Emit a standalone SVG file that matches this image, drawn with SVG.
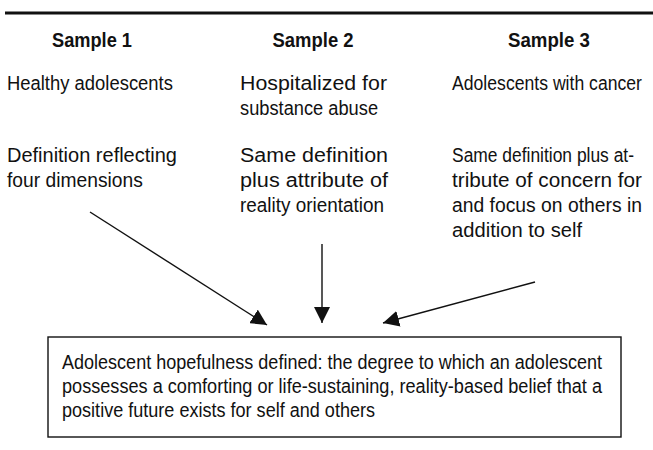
<svg xmlns="http://www.w3.org/2000/svg" width="653" height="450" viewBox="0 0 653 450">
<style>
text{font-family:"Liberation Sans",Arial,sans-serif;font-size:21px;fill:#111}
.h{font-weight:bold;text-anchor:middle;font-size:20.5px}
.c{stroke:#111;stroke-width:1.4;fill:none}
</style>
<defs>
<marker id="ah" viewBox="0 0 10 10" refX="10" refY="5" markerWidth="16" markerHeight="16" markerUnits="userSpaceOnUse" orient="auto"><path d="M0,0 L10,5 L0,10 z" fill="#111"/></marker>
</defs>
<rect width="653" height="450" fill="#fff"/>
<line x1="5" y1="13" x2="653" y2="13" stroke="#111" stroke-width="3"/>
<g id="sample1" transform="scale(0.86 1)">
<text class="h" x="107" y="47" textLength="93" lengthAdjust="spacingAndGlyphs">Sample 1</text>
<text x="8.1" y="90" textLength="193" lengthAdjust="spacingAndGlyphs">Healthy adolescents</text>
<text x="8.1" y="162" textLength="197.7" lengthAdjust="spacingAndGlyphs">Definition reflecting</text>
<text x="8.1" y="187" textLength="158.1" lengthAdjust="spacingAndGlyphs">four dimensions</text>
</g>
<g id="sample2" transform="scale(0.86 1)">
<text class="h" x="364" y="47" textLength="94.2" lengthAdjust="spacingAndGlyphs">Sample 2</text>
<text x="279.1" y="90" textLength="170.9" lengthAdjust="spacingAndGlyphs">Hospitalized for</text>
<text x="279.1" y="115" textLength="160.5" lengthAdjust="spacingAndGlyphs">substance abuse</text>
<text x="279.1" y="162" textLength="172.1" lengthAdjust="spacingAndGlyphs">Same definition</text>
<text x="279.1" y="187" textLength="172.1" lengthAdjust="spacingAndGlyphs">plus attribute of</text>
<text x="279.1" y="212" textLength="167.4" lengthAdjust="spacingAndGlyphs">reality orientation</text>
</g>
<g id="sample3" transform="scale(0.86 1)">
<text class="h" x="638.4" y="47" textLength="95.3" lengthAdjust="spacingAndGlyphs">Sample 3</text>
<text x="525.6" y="90" textLength="220.9" lengthAdjust="spacingAndGlyphs">Adolescents with cancer</text>
<text x="525.6" y="162" textLength="211.6" lengthAdjust="spacingAndGlyphs">Same definition plus at-</text>
<text x="525.6" y="187" textLength="220.9" lengthAdjust="spacingAndGlyphs">tribute of concern for</text>
<text x="525.6" y="212" textLength="220.9" lengthAdjust="spacingAndGlyphs">and focus on others in</text>
<text x="525.6" y="237" textLength="151.2" lengthAdjust="spacingAndGlyphs">addition to self</text>
</g>
<g id="definition">
<rect x="48" y="337" width="573" height="100" fill="none" stroke="#111" stroke-width="1.4"/>
<g transform="scale(0.86 1)">
<text x="72.1" y="369" textLength="627.9" lengthAdjust="spacingAndGlyphs">Adolescent hopefulness defined: the degree to which an adolescent</text>
<text x="72.1" y="393" textLength="627.9" lengthAdjust="spacingAndGlyphs">possesses a comforting or life-sustaining, reality-based belief that a</text>
<text x="72.1" y="417" textLength="364" lengthAdjust="spacingAndGlyphs">positive future exists for self and others</text>
</g>
</g>
<g id="connectors">
<line class="c" x1="90" y1="212" x2="267" y2="325" marker-end="url(#ah)"/>
<line class="c" x1="322" y1="244" x2="322" y2="323" marker-end="url(#ah)"/>
<line class="c" x1="535" y1="282" x2="383" y2="323" marker-end="url(#ah)"/>
</g>
</svg>
